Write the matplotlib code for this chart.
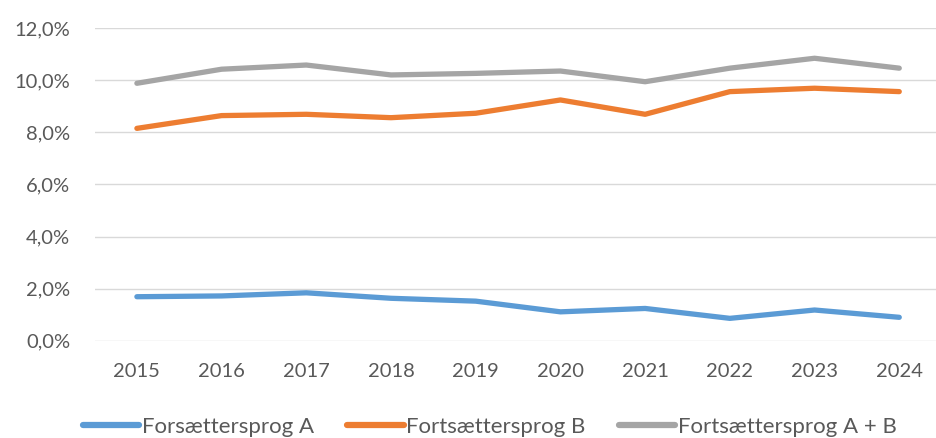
import matplotlib
matplotlib.use("Agg")
import matplotlib.pyplot as plt
from matplotlib.ticker import FuncFormatter

years = ["2015", "2016", "2017", "2018", "2019", "2020", "2021", "2022", "2023", "2024"]
sprog_a = [1.69, 1.72, 1.84, 1.63, 1.52, 1.11, 1.24, 0.86, 1.18, 0.90]
sprog_b = [8.15, 8.64, 8.69, 8.56, 8.73, 9.24, 8.69, 9.56, 9.69, 9.56]
sprog_ab = [9.88, 10.42, 10.58, 10.20, 10.26, 10.35, 9.94, 10.46, 10.84, 10.46]
labels = ["Forsættersprog A", "Fortsættersprog B", "Fortsættersprog A + B"]
colors = ["#5B9BD5", "#ED7D31", "#A5A5A5"]

plt.rcParams['font.family'] = ['Lato', 'DejaVu Sans']
txt = "#595959"

fig = plt.figure(figsize=(9.36, 4.38), dpi=100)
ax = fig.add_axes([0.101, 0.222, 0.905, 0.714])
x = list(range(len(years)))
for vals, lab, c in zip([sprog_a, sprog_b, sprog_ab], labels, colors):
    ax.plot(x, vals, color=c, lw=3.8, label=lab, solid_capstyle='round')

ax.set_xlim(-0.5, len(years) - 0.5)
ax.set_ylim(0, 12)
ax.set_yticks([0, 2, 4, 6, 8, 10, 12])
ax.yaxis.set_major_formatter(FuncFormatter(lambda v, p: f"{v:.1f}%".replace(".", ",")))
ax.set_xticks(x)
ax.set_xticklabels(years)
ax.grid(axis='y', color="#D9D9D9", lw=1)
ax.set_axisbelow(True)
for s in ax.spines.values():
    s.set_visible(False)
ax.tick_params(axis='both', length=0, labelsize=14.5, colors=txt)
ax.tick_params(axis='y', pad=17.5)
ax.tick_params(axis='x', pad=16)

leg = fig.legend(loc='center', bbox_to_anchor=(0.523, 0.025), ncol=3, frameon=False,
                 fontsize=16, handlelength=2.55, handletextpad=0.1, columnspacing=1.5)
for t in leg.get_texts():
    t.set_color(txt)
for h in leg.get_lines():
    h.set_linewidth(4.5)

fig.savefig("out.png", dpi=100)
